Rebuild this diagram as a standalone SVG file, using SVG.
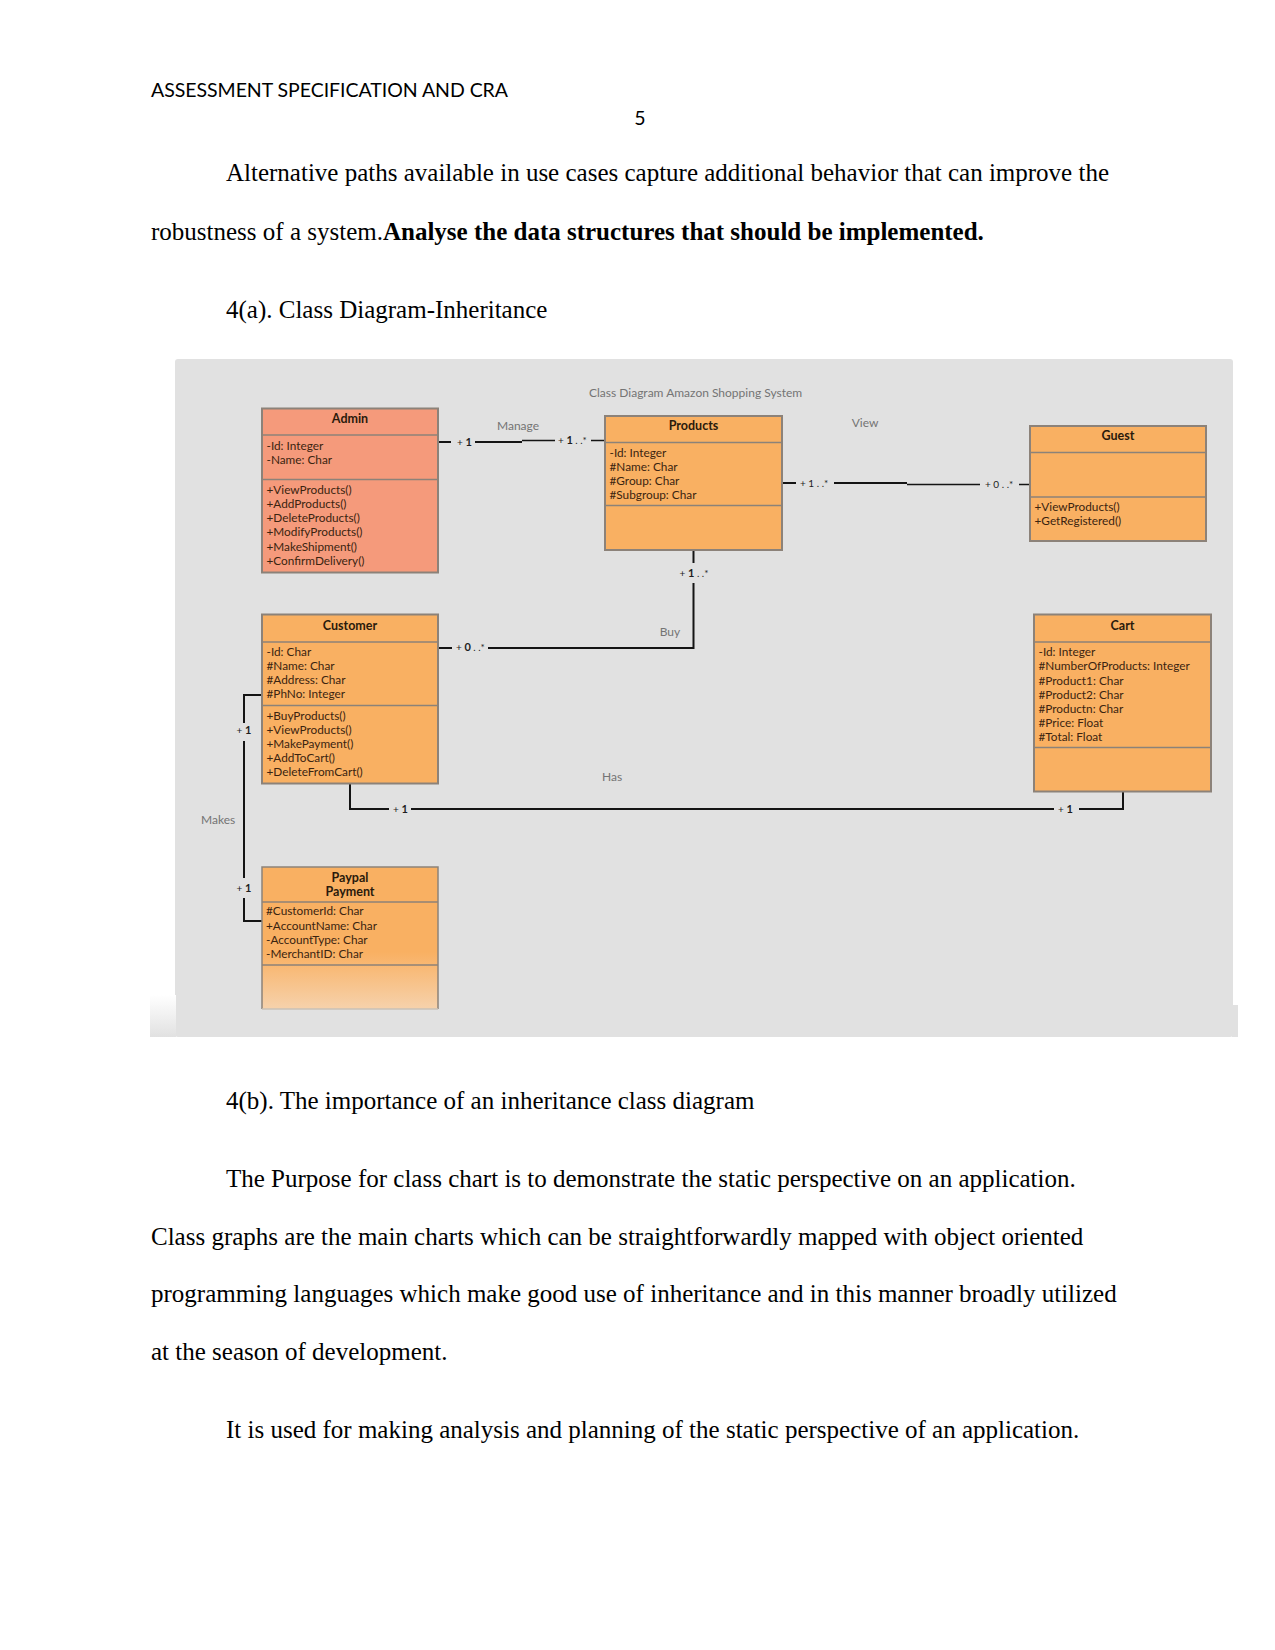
<svg xmlns="http://www.w3.org/2000/svg" width="1275" height="1650" viewBox="0 0 1275 1650">
<defs>
<style>
.page{font-family:"Liberation Serif","Times New Roman",serif;font-size:25px;fill:#000}
.hdr{font-family:Lato,"Liberation Sans",sans-serif;font-size:19.5px;fill:#000}
.box{stroke:#8c8279;stroke-width:2}
.sal{fill:#F59A7B}
.org{fill:#F9B062}
.dv{stroke:#8c8279;stroke-width:1.5;fill:none}
.t{font-family:Lato,"Liberation Sans",sans-serif;font-size:11.8px;fill:#3b2410}
.ttl{font-family:Lato,"Liberation Sans",sans-serif;font-size:12.5px;font-weight:bold;text-anchor:middle;fill:#2a1a0c}
.lbl{font-family:Lato,"Liberation Sans",sans-serif;font-size:12px;fill:#747474}
.m{font-family:Lato,"Liberation Sans",sans-serif;font-size:10px;fill:#1e1e1e}
.m tspan.b{font-weight:bold;font-size:11px}
.c{stroke:#141414;stroke-width:2;fill:none}
.ct{stroke:#141414;stroke-width:1.5;fill:none}
</style>
<linearGradient id="fadeL" x1="0" y1="0" x2="0" y2="1">
<stop offset="0" stop-color="#ffffff"/>
<stop offset="1" stop-color="#e1e1e1"/>
</linearGradient>
<linearGradient id="payFade" x1="0" y1="0" x2="0" y2="1">
<stop offset="0" stop-color="#F9B062"/>
<stop offset="0.6" stop-color="#F9B062"/>
<stop offset="1" stop-color="#F6D2AC"/>
</linearGradient>
</defs>
<rect width="1275" height="1650" fill="#ffffff"/>

<g id="page-text">
<text class="hdr" x="151" y="97" textLength="357">ASSESSMENT SPECIFICATION AND CRA</text>
<text class="hdr" x="640" y="125" text-anchor="middle">5</text>
<text class="page" x="226" y="181">Alternative paths available in use cases capture additional behavior that can improve the</text>
<text class="page" x="151" y="240">robustness of a system.<tspan font-weight="bold">Analyse the data structures that should be implemented.</tspan></text>
<text class="page" x="226" y="318">4(a). Class Diagram-Inheritance</text>
<text class="page" x="226" y="1109">4(b). The importance of an inheritance class diagram</text>
<text class="page" x="226" y="1187">The Purpose for class chart is to demonstrate the static perspective on an application.</text>
<text class="page" x="151" y="1245">Class graphs are the main charts which can be straightforwardly mapped with object oriented</text>
<text class="page" x="151" y="1302">programming languages which make good use of inheritance and in this manner broadly utilized</text>
<text class="page" x="151" y="1360">at the season of development.</text>
<text class="page" x="226" y="1438">It is used for making analysis and planning of the static perspective of an application.</text>
</g>

<g id="diagram-background">
<rect x="175" y="359" width="1058" height="678" rx="3" fill="#E1E1E1"/>
<rect x="150" y="995" width="26" height="42" fill="url(#fadeL)"/>
<rect x="1232" y="1005" width="6" height="32" fill="#E1E1E1"/>
<text class="lbl" x="589" y="397">Class Diagram Amazon Shopping System</text>
</g>

<g id="connectors">
<!-- Manage: Admin - Products -->
<line class="c" x1="438" y1="442" x2="451" y2="442"/>
<line class="c" x1="475" y1="442" x2="522" y2="442"/>
<line class="ct" x1="522" y1="440.5" x2="555" y2="440.5"/>
<line class="ct" x1="591" y1="440.5" x2="605" y2="440.5"/>
<text class="m" x="457" y="446">+ <tspan class="b">1</tspan></text>
<text class="m" x="558" y="444">+ <tspan class="b">1</tspan> . .*</text>
<text class="lbl" x="518" y="430" text-anchor="middle">Manage</text>
<!-- View: Products - Guest -->
<line class="c" x1="782" y1="483" x2="796" y2="483"/>
<line class="c" x1="834" y1="483" x2="907" y2="483"/>
<line class="ct" x1="907" y1="484.5" x2="980" y2="484.5"/>
<line class="ct" x1="1019" y1="484.5" x2="1031" y2="484.5"/>
<text class="m" x="800" y="487">+ 1 . .*</text>
<text class="m" x="985" y="488">+ 0 . .*</text>
<text class="lbl" x="865" y="427" text-anchor="middle">View</text>
<!-- Buy: Customer - Products -->
<line class="c" x1="693.5" y1="550" x2="693.5" y2="563"/>
<polyline class="c" points="693.5,583 693.5,648 488,648"/>
<line class="c" x1="438" y1="648" x2="452" y2="648"/>
<text class="m" x="694" y="577" text-anchor="middle">+ <tspan class="b">1</tspan> . .*</text>
<text class="m" x="456" y="651">+ <tspan class="b">0</tspan> . .*</text>
<text class="lbl" x="670" y="636" text-anchor="middle">Buy</text>
<!-- Has: Customer - Cart -->
<polyline class="c" points="350,783 350,809 389,809"/>
<line class="c" x1="411" y1="809" x2="1054" y2="809"/>
<polyline class="c" points="1079,809 1123,809 1123,791"/>
<text class="m" x="393" y="813">+ <tspan class="b">1</tspan></text>
<text class="m" x="1058" y="813">+ <tspan class="b">1</tspan></text>
<text class="lbl" x="602" y="781">Has</text>
<!-- Makes: Customer - Paypal Payment -->
<polyline class="c" points="262,695 244,695 244,723"/>
<line class="c" x1="244" y1="741" x2="244" y2="878"/>
<polyline class="c" points="244,898 244,921 262,921"/>
<text class="m" x="244" y="734" text-anchor="middle">+ <tspan class="b">1</tspan></text>
<text class="m" x="244" y="892" text-anchor="middle">+ <tspan class="b">1</tspan></text>
<text class="lbl" x="201" y="824">Makes</text>
</g>

<g id="node-admin">
<rect class="box sal" x="262" y="408.5" width="176" height="164"/>
<line class="dv" x1="262" y1="435" x2="438" y2="435"/>
<line class="dv" x1="262" y1="479.5" x2="438" y2="479.5"/>
<text class="ttl" x="350" y="423">Admin</text>
<text class="t" x="266.5" y="450">-Id: Integer</text>
<text class="t" x="266.5" y="464">-Name: Char</text>
<text class="t" x="266.5" y="494">+ViewProducts()</text>
<text class="t" x="266.5" y="508">+AddProducts()</text>
<text class="t" x="266.5" y="522">+DeleteProducts()</text>
<text class="t" x="266.5" y="536">+ModifyProducts()</text>
<text class="t" x="266.5" y="550.5">+MakeShipment()</text>
<text class="t" x="266.5" y="564.5">+ConfirmDelivery()</text>
</g>

<g id="node-products">
<rect class="box org" x="605" y="416" width="177" height="134"/>
<line class="dv" x1="605" y1="442.5" x2="782" y2="442.5"/>
<line class="dv" x1="605" y1="505.5" x2="782" y2="505.5"/>
<text class="ttl" x="693.5" y="430">Products</text>
<text class="t" x="609.5" y="457">-Id: Integer</text>
<text class="t" x="609.5" y="471">#Name: Char</text>
<text class="t" x="609.5" y="485">#Group: Char</text>
<text class="t" x="609.5" y="499">#Subgroup: Char</text>
</g>

<g id="node-guest">
<rect class="box org" x="1030" y="426" width="176" height="115"/>
<line class="dv" x1="1030" y1="452.5" x2="1206" y2="452.5"/>
<line class="dv" x1="1030" y1="497" x2="1206" y2="497"/>
<text class="ttl" x="1118" y="440">Guest</text>
<text class="t" x="1034.5" y="511">+ViewProducts()</text>
<text class="t" x="1034.5" y="525">+GetRegistered()</text>
</g>

<g id="node-customer">
<rect class="box org" x="262" y="614.5" width="176" height="169"/>
<line class="dv" x1="262" y1="642" x2="438" y2="642"/>
<line class="dv" x1="262" y1="705.5" x2="438" y2="705.5"/>
<text class="ttl" x="350" y="629.5">Customer</text>
<text class="t" x="266.5" y="656">-Id: Char</text>
<text class="t" x="266.5" y="670">#Name: Char</text>
<text class="t" x="266.5" y="684">#Address: Char</text>
<text class="t" x="266.5" y="698">#PhNo: Integer</text>
<text class="t" x="266.5" y="719.5">+BuyProducts()</text>
<text class="t" x="266.5" y="733.5">+ViewProducts()</text>
<text class="t" x="266.5" y="748">+MakePayment()</text>
<text class="t" x="266.5" y="762">+AddToCart()</text>
<text class="t" x="266.5" y="776">+DeleteFromCart()</text>
</g>

<g id="node-cart">
<rect class="box org" x="1034" y="614.5" width="177" height="177"/>
<line class="dv" x1="1034" y1="642" x2="1211" y2="642"/>
<line class="dv" x1="1034" y1="747.5" x2="1211" y2="747.5"/>
<text class="ttl" x="1122.5" y="629.5">Cart</text>
<text class="t" x="1038.5" y="656">-Id: Integer</text>
<text class="t" x="1038.5" y="670">#NumberOfProducts: Integer</text>
<text class="t" x="1038.5" y="684.5">#Product1: Char</text>
<text class="t" x="1038.5" y="698.5">#Product2: Char</text>
<text class="t" x="1038.5" y="713">#Productn: Char</text>
<text class="t" x="1038.5" y="727">#Price: Float</text>
<text class="t" x="1038.5" y="741">#Total: Float</text>
</g>

<g id="node-paypal">
<rect x="262" y="867" width="176" height="142" fill="url(#payFade)"/>
<path class="dv" d="M262,1009 V867 H438 V1009" stroke-width="2"/>
<line x1="262" y1="1009" x2="438" y2="1009" stroke="#c9c0b6" stroke-width="1.5"/>
<line class="dv" x1="262" y1="902" x2="438" y2="902"/>
<line class="dv" x1="262" y1="965" x2="438" y2="965"/>
<text class="ttl" x="350" y="882">Paypal</text>
<text class="ttl" x="350" y="895.5">Payment</text>
<text class="t" x="266" y="915">#CustomerId: Char</text>
<text class="t" x="266" y="930">+AccountName: Char</text>
<text class="t" x="266" y="944">-AccountType: Char</text>
<text class="t" x="266" y="958">-MerchantID: Char</text>
</g>
</svg>
